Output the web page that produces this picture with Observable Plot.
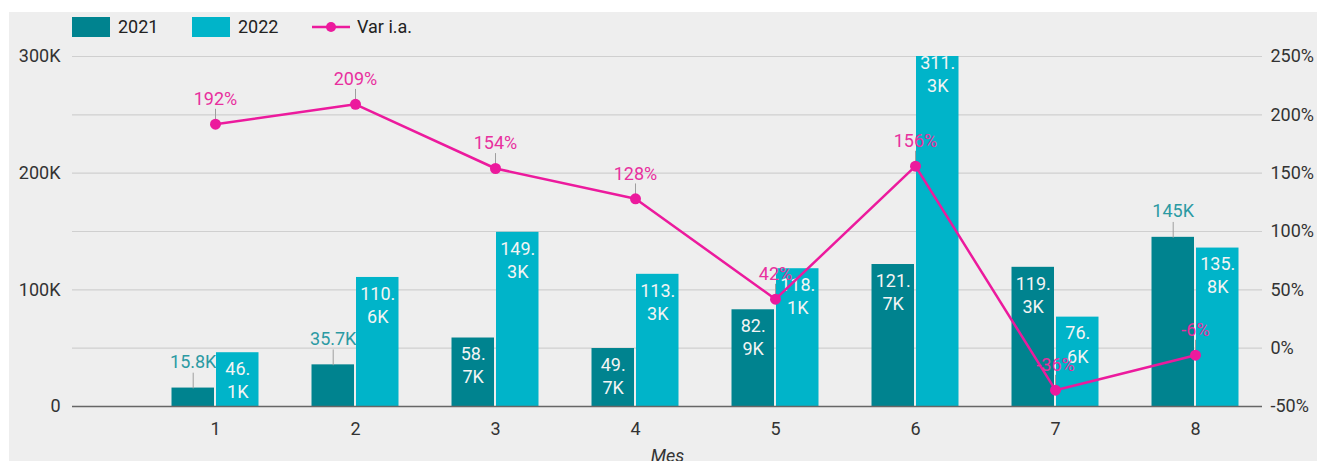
<!DOCTYPE html>
<html><head><meta charset="utf-8">
<script src="https://cdn.jsdelivr.net/npm/d3@7"></script>
<script src="https://cdn.jsdelivr.net/npm/@observablehq/plot@0.6"></script>
<style>
html,body{margin:0;padding:0;background:#fff;overflow:hidden;width:1317px;height:461px;font-family:Roboto,sans-serif;}
#panel{position:absolute;left:9px;top:12px;width:1308px;height:449px;background:#eeeeee;overflow:hidden;}
.lg{position:absolute;font-size:18px;color:#222;line-height:22px;}
.sw{position:absolute;}
#chart{position:absolute;left:0;top:28px;}
</style>
</head><body>
<div id="panel">
  <div class="sw" style="left:63px;top:5px;width:38px;height:20px;background:#00838f"></div>
  <div class="lg" style="left:109px;top:4px">2021</div>
  <div class="sw" style="left:183px;top:5px;width:38px;height:20px;background:#00b4c9"></div>
  <div class="lg" style="left:229px;top:4px">2022</div>
  <svg class="sw" style="left:303px;top:5px" width="38" height="20"><line x1="0" x2="38" y1="10" y2="10" stroke="#ec1a9d" stroke-width="2.5"/><circle cx="19" cy="10" r="5" fill="#ec1a9d"/></svg>
  <div class="lg" style="left:348px;top:4px">Var i.a.</div>
  <div id="chart"></div>
</div>
<script>
const months = [1, 2, 3, 4, 5, 6, 7, 8];
const values2021 = [15800, 35700, 58700, 49700, 82900, 121700, 119300, 145000];
const values2022 = [46100, 110600, 149300, 113300, 118100, 311300, 76600, 135800];
const varIA = [192, 209, 154, 128, 42, 156, -36, -6];
const leftTicks = [0, 100000, 200000, 300000];
const rightTicks = [-50, 0, 50, 100, 150, 200, 250];
const outside2021 = [1, 2, 8];

const C2021 = "#00838f", C2022 = "#00b4c9", CPINK = "#ec1a9d";
const yMax = 300000;
const toLeft = v => (v + 50) * 1000;          // right axis (%) -> left scale
const fromLeft = d => d / 1000 - 50;
const fmtK = v => v === 0 ? "0" : (v / 1000).toFixed(1).replace(/\.0$/, "") + "K";
const split = s => { const i = s.indexOf("."); return i < 0 ? s : s.slice(0, i + 1) + "\n" + s.slice(i + 1); };

const d21 = months.map((m, i) => ({month: m, value: values2021[i], out: outside2021.includes(m)}));
const d22 = months.map((m, i) => ({month: m, value: values2022[i], out: false}));
const dv = months.map((m, i) => ({month: m, v: varIA[i]}));

const leader = {draw(context, l) { context.moveTo(0, 0); context.lineTo(0, -l); }};
const OFF = 22.3;
const inLabel = (data, dx, dy) => Plot.text(data, {x: "month", y: d => Math.min(d.value, yMax), dx, dy, lineAnchor: "top", lineHeight: 1.28, text: d => split(fmtK(d.value)), fill: "#f4f4f4", fontSize: 18, clip: true});

const chart = Plot.plot({
  width: 1308,
  height: 430,
  marginTop: 16,
  marginBottom: 64,
  marginLeft: 63,
  marginRight: 55,
  style: {background: "none", fontFamily: "Roboto, sans-serif", fontSize: "18px", color: "#333"},
  x: {type: "band", domain: months, range: [133.7, 1258.3], padding: 0},
  y: {domain: [0, yMax]},
  marks: [
    Plot.gridY(d3.range(50000, yMax + 1, 50000), {stroke: "#cfcfcf", strokeOpacity: 1, strokeWidth: 1.2}),
    Plot.barY(d21, {x: "month", y: "value", fill: C2021, insetLeft: 26.5, insetRight: 71, clip: true}),
    Plot.barY(d22, {x: "month", y: "value", fill: C2022, insetLeft: 71, insetRight: 26.5, clip: true}),
    Plot.ruleY([0], {stroke: "#666", strokeWidth: 1.5}),
    // outside labels with leader lines
    Plot.vector(d21.filter(d => d.out), {x: "month", y: "value", dx: -OFF, length: 15, anchor: "start", shape: leader, stroke: "#9e9e9e", strokeWidth: 1}),
    Plot.text(d21.filter(d => d.out), {x: "month", y: "value", dx: -OFF, dy: -26, text: d => fmtK(d.value), fill: "#2b9aa3", fontSize: 18}),
    // inside labels
    inLabel(d21.filter(d => !d.out), -OFF, 6),
    inLabel(d22.filter(d => d.value <= yMax), OFF, 6),
    inLabel(d22.filter(d => d.value > yMax), OFF, -4),
    // Var i.a. line
    Plot.vector(dv, {x: "month", y: d => toLeft(d.v), length: 15, anchor: "start", shape: leader, stroke: "#9e9e9e", strokeWidth: 1}),
    Plot.line(dv, {x: "month", y: d => toLeft(d.v), stroke: CPINK, strokeWidth: 2.5}),
    Plot.dot(dv, {x: "month", y: d => toLeft(d.v), r: 5.5, fill: CPINK}),
    Plot.text(dv, {x: "month", y: d => toLeft(d.v), dy: -25, text: d => d.v + "%", fill: "#e8309e", fontSize: 18}),
    // axes
    Plot.axisY(leftTicks, {anchor: "left", tickSize: 0, tickPadding: 12, tickFormat: fmtK, label: null, fill: "#333"}),
    Plot.axisY(rightTicks.map(toLeft), {anchor: "right", tickSize: 0, tickPadding: 8, tickFormat: d => fromLeft(d) + "%", label: null, fill: "#333"}),
    Plot.axisX({tickSize: 0, tickPadding: 16, label: null, fill: "#333"}),
    Plot.text(["Mes"], {frameAnchor: "bottom", dy: 55, text: d => d, fontStyle: "italic", fill: "#333", fontSize: 18})
  ]
});
document.getElementById("chart").appendChild(chart);
</script>
</body></html>
